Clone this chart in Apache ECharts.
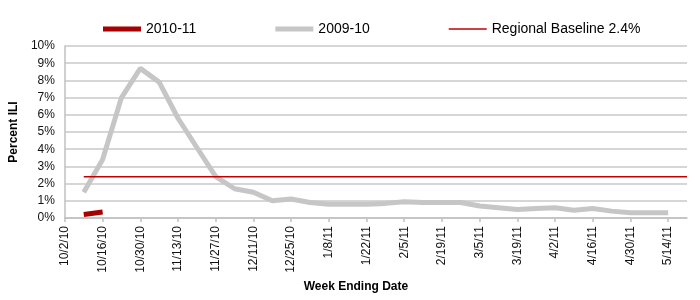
<!DOCTYPE html>
<html>
<head>
<meta charset="utf-8">
<script src="https://cdn.jsdelivr.net/npm/echarts@6.0.0/dist/echarts.min.js"></script>
<style>
  html, body { margin: 0; padding: 0; background: #fff; }
  #chart { width: 700px; height: 300px; }
</style>
</head>
<body>
<div id="chart"></div>
<script>
// week ending dates (weekly), labels shown every other week
const weeks = [
  '10/2/10', '10/9/10', '10/16/10', '10/23/10', '10/30/10', '11/6/10', '11/13/10', '11/20/10',
  '11/27/10', '12/4/10', '12/11/10', '12/18/10', '12/25/10', '1/1/11', '1/8/11', '1/15/11',
  '1/22/11', '1/29/11', '2/5/11', '2/12/11', '2/19/11', '2/26/11', '3/5/11', '3/12/11',
  '3/19/11', '3/26/11', '4/2/11', '4/9/11', '4/16/11', '4/23/11', '4/30/11', '5/7/11',
  '5/14/11', '5/21/11'
];

// percent ILI
const season2010 = [null, 0.2, 0.35];
const season2009 = [
  null, 1.5, 3.4, 7.0, 8.7, 7.9, 5.8, 4.1, 2.4, 1.7, 1.5, 1.0, 1.1, 0.9, 0.8, 0.8,
  0.8, 0.85, 0.95, 0.9, 0.9, 0.9, 0.7, 0.6, 0.5, 0.55, 0.6, 0.45, 0.55, 0.4, 0.3, 0.3, 0.3
];
const baselineValue = 2.4;
const baseline = weeks.map((w, i) => (i === 0 ? null : baselineValue));

const yTicks = { min: 0, max: 10, interval: 1 };

const font = '"Liberation Sans", Arial, sans-serif';
const narrow = '"Liberation Sans Narrow", "Arial Narrow", "Liberation Sans", sans-serif';
const chart = echarts.init(document.getElementById('chart'));

chart.setOption({
  animation: false,
  textStyle: { fontFamily: font },
  legend: {
    left: 98,
    top: 17,
    itemWidth: 38,
    itemHeight: 5,
    itemGap: 79,
    icon: 'rect',
    textStyle: { fontFamily: font, fontSize: 14, color: '#000' },
    data: [
      { name: '2010-11' },
      { name: '2009-10' },
      { name: 'Regional Baseline 2.4%', icon: 'path://M0,0H38V1.5H0Z' }
    ]
  },
  grid: { left: 59, right: 13, top: 46, bottom: 82 },
  xAxis: {
    type: 'category',
    data: weeks,
    boundaryGap: false,
    name: 'Week Ending Date',
    nameLocation: 'middle',
    nameGap: 62,
    nameTextStyle: { fontFamily: font, fontSize: 12, fontWeight: 'bold', color: '#000', padding: [0, 40, 0, 0] },
    axisLine: { lineStyle: { color: '#c0c0c0', width: 1.5 } },
    axisTick: { interval: 1, length: 4, lineStyle: { color: '#c0c0c0', width: 1.5 } },
    axisLabel: { interval: 1, rotate: 90, margin: 8, fontSize: 12, color: '#111', fontFamily: narrow },
    splitLine: { show: false }
  },
  yAxis: {
    type: 'value',
    min: yTicks.min,
    max: yTicks.max,
    interval: yTicks.interval,
    name: 'Percent ILI',
    nameLocation: 'middle',
    nameGap: 34,
    nameTextStyle: { fontFamily: font, fontSize: 12, fontWeight: 'bold', color: '#000' },
    axisLine: { show: true, lineStyle: { color: '#c0c0c0', width: 1.5 } },
    axisTick: { show: false },
    axisLabel: { formatter: '{value}%', margin: 10, fontSize: 12, color: '#111', fontFamily: font },
    splitLine: { lineStyle: { color: '#c8c8c8', width: 1.5 } }
  },
  series: [
    {
      name: '2010-11',
      type: 'line',
      data: season2010,
      symbol: 'none',
      lineStyle: { color: '#a80000', width: 5 },
      itemStyle: { color: '#a80000' },
      z: 4
    },
    {
      name: '2009-10',
      type: 'line',
      data: season2009,
      symbol: 'none',
      lineStyle: { color: '#c6c6c6', width: 5 },
      itemStyle: { color: '#c6c6c6' },
      z: 2
    },
    {
      name: 'Regional Baseline 2.4%',
      type: 'line',
      data: baseline,
      symbol: 'none',
      lineStyle: { color: '#c00000', width: 1.5 },
      itemStyle: { color: '#c00000' },
      z: 3
    }
  ]
});
</script>
</body>
</html>
